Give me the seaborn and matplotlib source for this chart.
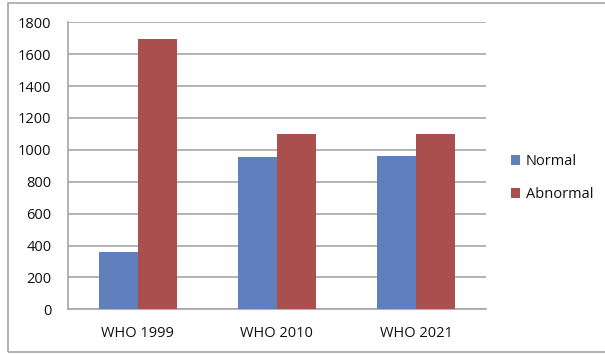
import matplotlib
matplotlib.use("Agg")
import matplotlib.pyplot as plt
import pandas as pd
import seaborn as sns
from matplotlib.patches import Rectangle

criteria = ["WHO 1999", "WHO 2010", "WHO 2021"]
normal = [362, 954, 960]
abnormal = [1695, 1102, 1097]

df = pd.DataFrame({
    "criteria": criteria * 2,
    "count": normal + abnormal,
    "group": ["Normal"] * 3 + ["Abnormal"] * 3,
})

sns.set_style("white")
plt.rcParams["font.family"] = ["Open Sans", "DejaVu Sans"]

fig = plt.figure(figsize=(6.05, 3.54), dpi=100)
ax = fig.add_axes([68 / 605, 1 - 309.3 / 354, (485.7 - 68) / 605, (309.3 - 22.3) / 354])

sns.barplot(data=df, x="criteria", y="count", hue="group", ax=ax,
            palette=["#5F80BD", "#A9504E"], width=0.56, gap=0, saturation=1,
            edgecolor="none", zorder=3)

ax.set_ylim(0, 1800)
ax.set_yticks(range(0, 1801, 200))
ax.set_xlim(-0.5, 2.5)
ax.set_xlabel("")
ax.set_ylabel("")
ax.grid(axis="y", color="#a6a6a6", linewidth=1.2, zorder=0)
ax.set_axisbelow(True)

for s in ["top", "right"]:
    ax.spines[s].set_visible(False)
for s in ["left", "bottom"]:
    ax.spines[s].set_color("#a6a6a6")
    ax.spines[s].set_linewidth(1.2)

ax.set_xticks([-0.5, 0.5, 1.5, 2.5], minor=True)
ax.tick_params(axis="x", which="major", length=0, pad=12, labelsize=10.5, colors="#111111")
ax.tick_params(axis="x", which="minor", length=5, color="#a6a6a6", width=1.2)
ax.tick_params(axis="y", length=5, color="#a6a6a6", width=1.2, pad=7, labelsize=10.5,
               labelcolor="#111111")

ax.legend(loc="center left", bbox_to_anchor=(1.03, 0.457), frameon=False,
          handlelength=0.62, handleheight=0.62, handletextpad=0.35,
          labelspacing=1.25, fontsize=10.5, labelcolor="#111111")

fig.patches.append(Rectangle((8 / 605, 2 / 354), 1.0, 349 / 354, transform=fig.transFigure,
                             fill=False, edgecolor="#a6a6a6", linewidth=1.2))

fig.savefig("out.png", dpi=100)
